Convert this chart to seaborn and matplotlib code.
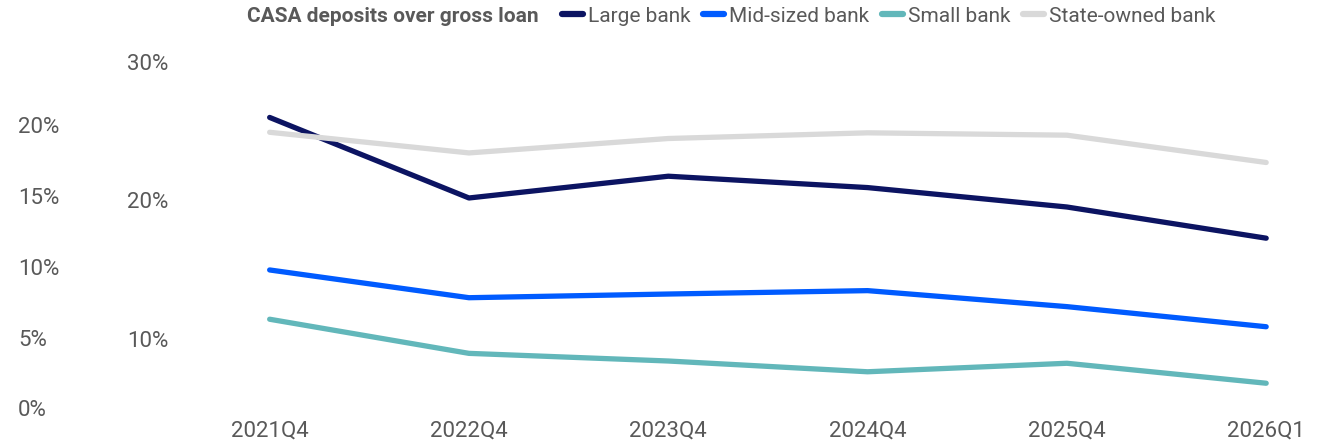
import matplotlib
matplotlib.use("Agg")
import matplotlib.pyplot as plt
import seaborn as sns
import pandas as pd
from matplotlib.lines import Line2D
from matplotlib.ticker import FuncFormatter

quarters = ["2021Q4", "2022Q4", "2023Q4", "2024Q4", "2025Q4", "2026Q1"]
large_bank = [25.98, 20.17, 21.74, 20.92, 19.52, 17.27]       # right-hand (secondary) scale
state_owned_bank = [24.91, 23.42, 24.46, 24.87, 24.70, 22.73]  # right-hand (secondary) scale
mid_sized_bank = [9.77, 7.81, 8.07, 8.31, 7.18, 5.76]          # primary scale
small_bank = [6.29, 3.88, 3.34, 2.58, 3.18, 1.77]              # primary scale

primary_ticks = [0, 5, 10, 15, 20]
secondary_ticks = [10, 20, 30]

colors = {
    "Large bank": "#0c1462",
    "Mid-sized bank": "#005bff",
    "Small bank": "#62b7ba",
    "State-owned bank": "#d9d9d9",
}

sns.set_style("white")
plt.rcParams["font.family"] = ["Roboto", "DejaVu Sans"]

W, H = 1329, 445
fig = plt.figure(figsize=(W / 100, H / 100), dpi=100)
left_px, right_px, top_px, bot_px = 170, 1320, 61.7, 408.3
ax = fig.add_axes([left_px / W, (H - bot_px) / H, (right_px - left_px) / W, (bot_px - top_px) / H])
ax2 = ax.twinx()

df1 = pd.DataFrame({
    "quarter": quarters * 2,
    "value": mid_sized_bank + small_bank,
    "series": ["Mid-sized bank"] * 6 + ["Small bank"] * 6,
})
df2 = pd.DataFrame({
    "quarter": quarters * 2,
    "value": large_bank + state_owned_bank,
    "series": ["Large bank"] * 6 + ["State-owned bank"] * 6,
})

lw = 3.8
sns.lineplot(data=df1, x="quarter", y="value", hue="series", palette=colors,
             linewidth=lw, ax=ax, legend=False, solid_capstyle="round")
sns.lineplot(data=df2, x="quarter", y="value", hue="series", palette=colors,
             linewidth=lw, ax=ax2, legend=False, solid_capstyle="round")

ax.set_xlim(-0.5, 5.27)
ax.set_ylim(0, (bot_px - top_px) / 14.16)
ax2.set_ylim(5, 30)

tick_color = "#595959"
fs = 16
pct = FuncFormatter(lambda v, p: f"{v:.0f}%")
ax.set_yticks(primary_ticks)
ax.yaxis.set_major_formatter(pct)
ax2.set_yticks(secondary_ticks)
ax2.yaxis.set_major_formatter(pct)
ax2.yaxis.set_ticks_position("left")
ax2.yaxis.set_label_position("left")

ax.tick_params(axis="y", length=0, pad=(left_px - 18) * 0.72, labelsize=fs, labelcolor=tick_color)
ax2.tick_params(axis="y", length=0, pad=(left_px - 127) * 0.72, labelsize=fs, labelcolor=tick_color)
for t in ax.get_yticklabels() + ax2.get_yticklabels():
    t.set_horizontalalignment("left")
ax.tick_params(axis="x", length=0, pad=9, labelsize=fs, labelcolor=tick_color)

for a in (ax, ax2):
    a.set_xlabel("")
    a.set_ylabel("")
    a.grid(False)
    for s in a.spines.values():
        s.set_visible(False)

fig.text(247 / W, 1 - 16 / H, "CASA deposits over gross loan", fontsize=15, fontweight="bold",
         color=tick_color, ha="left", va="center")

order = ["Large bank", "Mid-sized bank", "Small bank", "State-owned bank"]
handles = [Line2D([0], [0], color=colors[k], linewidth=4.5) for k in order]
leg = fig.legend(handles, order, loc="center left", bbox_to_anchor=(562 / W, 1 - 16 / H),
                 ncol=4, frameon=False, fontsize=15, handlelength=1.0, handletextpad=0.25,
                 columnspacing=0.6, borderaxespad=0, borderpad=0)
for t in leg.get_texts():
    t.set_color(tick_color)

fig.savefig("out.png", dpi=100)
